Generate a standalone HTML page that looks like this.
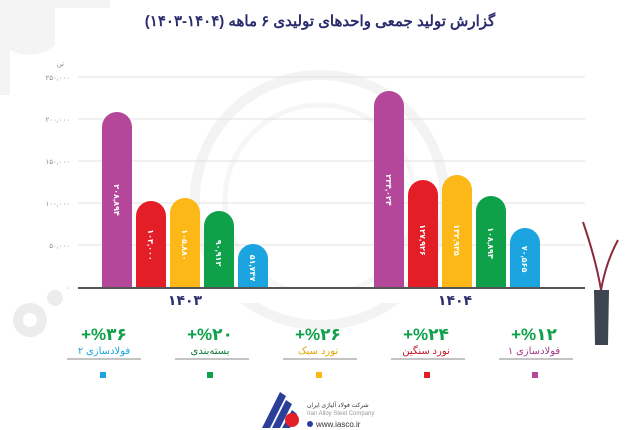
<!DOCTYPE html>
<html><head><meta charset="utf-8"><style>
body{margin:0;width:640px;height:430px;overflow:hidden;background:#fff;font-family:"Liberation Sans","Noto Sans CJK SC",sans-serif;}
.t{position:absolute;white-space:nowrap}
</style></head><body>
<svg width="640" height="430" style="position:absolute;left:0;top:0" font-family="Liberation Sans, DejaVu Sans, sans-serif">
<path d="M0 0 L110 0 L110 8 L55 8 L55 45 A40 40 0 0 1 10 50 L10 95 L0 95Z" fill="#f4f4f4"/>
<circle cx="320" cy="200" r="125" fill="none" stroke="#f3f3f3" stroke-width="10"/>
<circle cx="320" cy="200" r="95" fill="none" stroke="#f6f6f6" stroke-width="5"/>
<g fill="#ececec"><circle cx="30" cy="320" r="17"/><circle cx="55" cy="298" r="8"/></g>
<circle cx="30" cy="320" r="7" fill="#fff"/>
<g stroke="#e0e0e0" stroke-width="1">
<line x1="78" y1="77" x2="585" y2="77"/><line x1="78" y1="119" x2="585" y2="119"/>
<line x1="78" y1="161" x2="585" y2="161"/><line x1="78" y1="203" x2="585" y2="203"/>
<line x1="78" y1="245" x2="585" y2="245"/></g>
<g font-size="7" fill="#888" text-anchor="end">
<text x="70" y="80">۲۵۰,۰۰۰</text><text x="70" y="122">۲۰۰,۰۰۰</text><text x="70" y="164">۱۵۰,۰۰۰</text>
<text x="70" y="206">۱۰۰,۰۰۰</text><text x="70" y="248">۵۰,۰۰۰</text><text x="70" y="290">۰</text>
<text x="64" y="66">تن</text></g>
<g>
<rect x="102" y="112" width="30" height="190" rx="15" fill="#b5479b"/>
<rect x="136" y="201" width="30" height="101" rx="15" fill="#e41e26"/>
<rect x="170" y="198" width="30" height="104" rx="15" fill="#fbb817"/>
<rect x="204" y="211" width="30" height="91" rx="15" fill="#0fa04a"/>
<rect x="238" y="244" width="30" height="58" rx="15" fill="#1ba4e0"/>
<rect x="374" y="91" width="30" height="211" rx="15" fill="#b5479b"/>
<rect x="408" y="180" width="30" height="122" rx="15" fill="#e41e26"/>
<rect x="442" y="175" width="30" height="127" rx="15" fill="#fbb817"/>
<rect x="476" y="196" width="30" height="106" rx="15" fill="#0fa04a"/>
<rect x="510" y="228" width="30" height="74" rx="15" fill="#1ba4e0"/>
</g>
<rect x="78" y="289" width="510" height="14" fill="#fff"/>
<line x1="78" y1="288" x2="585" y2="288" stroke="#555" stroke-width="2"/>
<g font-size="8" fill="#fff" font-weight="bold" text-anchor="middle">
<text transform="translate(114,200) rotate(90)">۲۰۸,۸۹۴</text>
<text transform="translate(148,245) rotate(90)">۱۰۳,۰۰۰</text>
<text transform="translate(182,245) rotate(90)">۱۰۵,۸۸۰</text>
<text transform="translate(216,253) rotate(90)">۹۰,۹۱۲</text>
<text transform="translate(250,268) rotate(90)">۵۱,۷۴۷</text>
<text transform="translate(386,190) rotate(90)">۲۳۴,۰۲۴</text>
<text transform="translate(420,240) rotate(90)">۱۲۷,۹۲۶</text>
<text transform="translate(454,240) rotate(90)">۱۳۲,۹۳۵</text>
<text transform="translate(488,243) rotate(90)">۱۰۸,۸۹۳</text>
<text transform="translate(522,259) rotate(90)">۷۰,۵۶۵</text>
</g>
<g font-size="14" font-weight="bold" fill="#2b2d6e" text-anchor="middle">
<text x="185" y="305">۱۴۰۳</text><text x="455" y="305">۱۴۰۴</text></g>
<path d="M594 290 L609 290 L608 345 L595 345Z" fill="#3d4650"/>
<g stroke="#8b2a3a" stroke-width="2" fill="none"><path d="M601 290 Q596 260 583 222"/><path d="M601 290 Q606 262 618 240"/></g>
<g text-anchor="middle">
<g font-size="17" font-weight="bold" fill="#0fa04a">
<text x="104" y="340">+%۳۶</text><text x="210" y="340">+%۲۰</text><text x="318" y="340">+%۲۶</text>
<text x="426" y="340">+%۲۴</text><text x="534" y="340">+%۱۲</text></g>
<g font-size="10">
<text x="104" y="354" fill="#1ba4e0">فولادسازی ۲</text>
<text x="210" y="354" fill="#0f7a3a">بسته‌بندی</text>
<text x="318" y="354" fill="#e0a500">نورد سبک</text>
<text x="426" y="354" fill="#c0182a">نورد سنگین</text>
<text x="534" y="354" fill="#a03a8c">فولادسازی ۱</text></g>
</g>
<g stroke="#888" stroke-width="1">
<line x1="67" y1="359" x2="141" y2="359"/><line x1="175" y1="359" x2="249" y2="359"/>
<line x1="283" y1="359" x2="357" y2="359"/><line x1="391" y1="359" x2="465" y2="359"/><line x1="499" y1="359" x2="573" y2="359"/></g>
<rect x="100" y="372" width="6" height="6" fill="#1ba4e0"/><rect x="207" y="372" width="6" height="6" fill="#0fa04a"/>
<rect x="316" y="372" width="6" height="6" fill="#fbb817"/><rect x="424" y="372" width="6" height="6" fill="#e41e26"/>
<rect x="532" y="372" width="6" height="6" fill="#b5479b"/>
<g fill="#2b3f9a"><path d="M262 428 L280 392 L286 396 L270 428Z"/><path d="M272 428 L286 400 L292 404 L280 428Z"/><path d="M282 428 L292 410 L297 414 L290 428Z"/></g>
<circle cx="292" cy="420" r="7" fill="#e41e26"/>
<g font-size="6" fill="#333"><text x="307" y="407">شرکت فولاد آلیاژی ایران</text><text x="307" y="415" fill="#999">Iran Alloy Steel Company</text></g>
<circle cx="310" cy="424" r="3" fill="#2b3f9a"/>
<text x="316" y="427" font-size="8" fill="#333">www.iasco.ir</text>
</svg>
<div class="t" style="left:0;width:640px;top:12px;text-align:center;font-size:15px;font-weight:bold;color:#2b2d6e;direction:rtl">گزارش تولید جمعی واحدهای تولیدی ۶ ماهه (۱۴۰۴-۱۴۰۳)</div>
</body></html>
